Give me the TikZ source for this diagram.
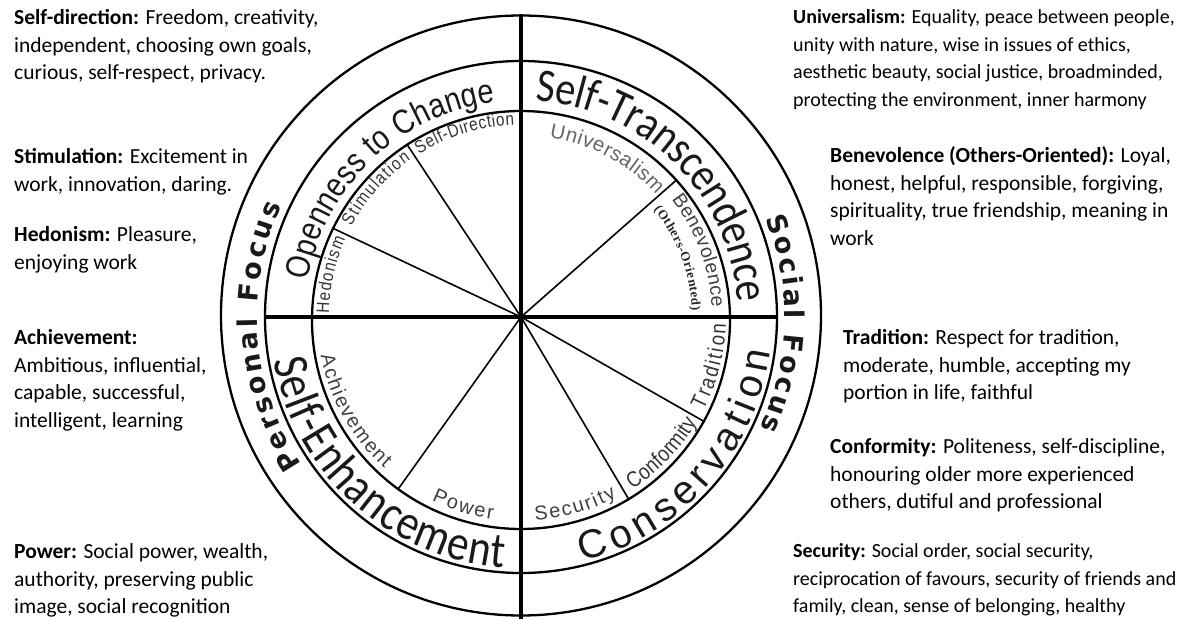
\documentclass[tikz,border=0pt]{standalone}
\usepackage{fontspec}
\setmainfont{Carlito}
\newfontfamily\arialf{Liberation Sans}
\newfontfamily\narrowf[FakeStretch=0.85]{Liberation Sans}
\newfontfamily\carlnarrow[FakeStretch=0.86]{Carlito}
\newfontfamily\dejaf{DejaVu Sans}
\newfontfamily\serf{Liberation Serif}
\usetikzlibrary{decorations.text}
\newcommand\wheelbig{\carlnarrow\fontsize{47}{49}\selectfont\color{black!90}}
\newcommand\wheelbigb{\carlnarrow\fontsize{50}{52}\selectfont\color{black!90}}
\newcommand\wheelarial{\narrowf\fontsize{34}{36}\selectfont\color{black!90}}
\newcommand\wheelcons{\arialf\fontsize{40}{42}\selectfont\color{black!90}}
\newcommand\wheelfocus{\dejaf\bfseries\fontsize{27}{29}\selectfont\color{black!90}}
\newcommand\wheelfocusb{\dejaf\bfseries\fontsize{27}{29}\selectfont\color{black!90}}
\newcommand\wheelsmall{\narrowf\fontsize{18}{19}\selectfont\color{black!80}}
\newcommand\wheelnarrow{\narrowf\fontsize{22}{23}\selectfont\color{black!80}}
\newcommand\wheelmid{\arialf\fontsize{20}{22}\selectfont\color{black!75}}
\newcommand\wheelbene{\arialf\fontsize{19.5}{21}\selectfont\color{black!75}}
\newcommand\wheeluni{\arialf\fontsize{20.5}{22}\selectfont\color{black!60}}
\newcommand\wheelothers{\serf\bfseries\fontsize{13}{14}\selectfont\color{black!85}}
\tikzset{
  side/.style={anchor=north west, inner sep=0pt, align=left, font=\fontsize{21.5}{27.5}\selectfont},
  sidesmall/.style={side, font=\fontsize{20}{27.5}\selectfont},
  ring/.style={circle, draw, line width=2.3pt, inner sep=0pt, minimum size=#1},
  spoke/.style={line width=1.6pt},
  axis/.style={line width=4.8pt},
  arctext/.style={decorate, decoration={text along path, text align={fit to path}, text={#1}}},
  arctextlow/.style 2 args={decorate, decoration={text along path, text align={fit to path}, raise=#2, text={#1}}},
}
\begin{document}
\begin{tikzpicture}[x=1pt, y=1pt]
\useasboundingbox (-521,-302) rectangle (668,317);
% rings
\node[ring=600pt] (outer) at (0,1.5) {};
\node[ring=512pt] (middle) at (0,0) {};
\node[ring=418pt] (inner) at (0,-3) {};
\coordinate (c) at (0,0);
% axes
\draw[axis] (outer.north) -- (0,-302);
\draw[axis, line width=4pt] (middle.west) -- (middle.east);
% spokes
\foreach \a in {123,154,42,-126,-29,-59} \draw[spoke] (c) -- (inner.\a);
% band labels
\path[arctextlow={|\wheelarial|Openness to Change}{-12pt}] (170:228) arc[start angle=170, end angle=97, radius=228];
\path[arctextlow={|\wheelbig|Self-Transcendence}{-13pt}] (86:230) arc[start angle=86, end angle=4, radius=230];
\path[arctext={|\wheelbigb|Self-Enhancement}] (190:251) arc[start angle=190, end angle=266, radius=251];
\path[arctext={|\wheelcons|Conservation}] (284:252) arc[start angle=284, end angle=352, radius=252];
\path[arctext={|\wheelfocus|Personal Focus}] (214:264) arc[start angle=214, end angle=155, radius=264];
\path[arctext={|\wheelfocusb|Social Focus}] (22:264) arc[start angle=22, end angle=-25, radius=264];
% inner labels (upper half)
\path[arctext={|\wheelsmall|Hedonism}] (179:192) arc[start angle=179, end angle=156, radius=192];
\path[arctext={|\wheelsmall|Stimulation}] (152:192) arc[start angle=152, end angle=125, radius=192];
\path[arctext={|\wheelsmall|Self-Direction}] (122:192) arc[start angle=122, end angle=92, radius=192];
\path[arctext={|\wheeluni|Universalism}] (81:182) arc[start angle=81, end angle=42, radius=182];
\path[arctext={|\wheelbene|Benevolence}] (38:191) arc[start angle=38, end angle=3, radius=191];
\path[arctext={|\wheelothers|(Others-Oriented)}] (39:171) arc[start angle=39, end angle=2, radius=171];
% inner labels (lower half)
\path[arctext={|\wheelnarrow|Tradition}] (-27:205) arc[start angle=-27, end angle=-2, radius=205];
\path[arctext={|\wheelnarrow|Conformity}] (-57:205) arc[start angle=-57, end angle=-31, radius=205];
\path[arctext={|\wheelmid|Security}] (-86:204) arc[start angle=-86, end angle=-62, radius=204];
\path[arctext={|\wheelmid|Power}] (244:204) arc[start angle=244, end angle=262, radius=204];
\path[arctext={|\wheelmid|Achievement}] (191:204) arc[start angle=191, end angle=228, radius=204];
% side texts
\node[side] (sd) at (-507,307.4) {\textbf{Self-direction:} Freedom, creativity,\\independent, choosing own goals,\\curious, self-respect, privacy.};
\node[side] (st) at (-507,168.4) {\textbf{Stimulation:} Excitement in\\work, innovation, daring.};
\node[side] (he) at (-507,90.4) {\textbf{Hedonism:} Pleasure,\\enjoying work};
\node[side] (ac) at (-507,-12.6) {\textbf{Achievement:}\\Ambitious, influential,\\capable, successful,\\intelligent, learning};
\node[side] (po) at (-507,-226.6) {\textbf{Power:} Social power, wealth,\\authority, preserving public\\image, social recognition};
\node[sidesmall] (un) at (272,307.6) {\textbf{Universalism:} Equality, peace between people,\\unity with nature, wise in issues of ethics,\\aesthetic beauty, social justice, broadminded,\\protecting the environment, inner harmony};
\node[side] (be) at (309,170.4) {\textbf{Benevolence (Others-Oriented):} Loyal,\\honest, helpful, responsible, forgiving,\\spirituality, true friendship, meaning in\\work};
\node[side] (tr) at (322,-12.6) {\textbf{Tradition:} Respect for tradition,\\moderate, humble, accepting my\\portion in life, faithful};
\node[side] (co) at (309,-121.6) {\textbf{Conformity:} Politeness, self-discipline,\\honouring older more experienced\\others, dutiful and professional};
\node[sidesmall] (se) at (272,-226.4) {\textbf{Security:} Social order, social security,\\reciprocation of favours, security of friends and\\family, clean, sense of belonging, healthy};
\end{tikzpicture}
\end{document}
